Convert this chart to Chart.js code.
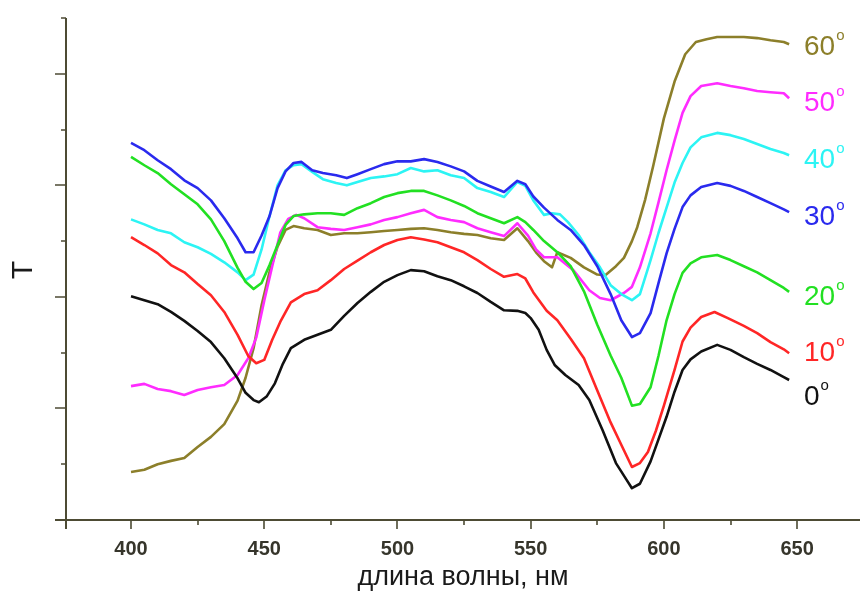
<!DOCTYPE html>
<html>
<head>
<meta charset="utf-8">
<script src="https://cdn.jsdelivr.net/npm/chart.js@4.4.1/dist/chart.umd.min.js"></script>
<style>
	body{ margin:0; background:#fff; }
	canvas{ display:block; }
</style>
</head>
<body>
<canvas id="spectra" width="860" height="592"></canvas>
<script>
// Spectra: wavelength (nm) and T (arbitrary units, one unit = one y tick)
var wl0  = [400,405,410,415,420,425,430,435,440,443,446,448,451,454,457,460,465,470,475,480,485,490,495,500,505,510,515,520,525,530,535,540,545,548,550,553,556,559,563,568,572,577,582,586,588,591,595,598,601,604,607,610,614,620,625,630,635,640,645,647];
var t0   = [4.01,3.94,3.87,3.73,3.57,3.39,3.19,2.90,2.54,2.28,2.15,2.11,2.22,2.45,2.80,3.08,3.23,3.32,3.41,3.66,3.89,4.09,4.27,4.39,4.48,4.46,4.37,4.30,4.19,4.07,3.91,3.76,3.75,3.71,3.62,3.41,3.05,2.78,2.60,2.42,2.15,1.61,1.02,0.72,0.57,0.65,1.05,1.45,1.85,2.30,2.69,2.88,3.02,3.14,3.05,2.92,2.80,2.69,2.56,2.51];

var wl10 = [400,405,410,415,420,425,430,435,440,444,447,450,453,456,460,465,470,475,480,485,490,495,500,505,510,515,520,525,530,535,540,545,548,551,556,560,565,570,575,580,584,588,591,594,597,600,604,607,610,614,619,624,630,635,640,645,647];
var t10  = [5.07,4.93,4.78,4.57,4.44,4.23,4.03,3.73,3.32,2.94,2.81,2.87,3.23,3.55,3.90,4.05,4.12,4.30,4.50,4.65,4.80,4.93,5.02,5.07,5.03,4.98,4.89,4.80,4.66,4.50,4.36,4.41,4.33,4.08,3.75,3.58,3.25,2.90,2.32,1.75,1.35,0.95,1.02,1.22,1.60,2.05,2.69,3.20,3.45,3.64,3.73,3.62,3.48,3.35,3.19,3.06,2.99];

var wl20 = [400,405,410,415,420,425,430,435,440,443,446,449,452,455,458,461,465,470,475,480,485,490,495,500,505,510,515,520,525,530,535,540,545,548,551,555,560,565,570,575,580,584,588,591,595,598,601,604,607,610,614,620,625,630,635,640,645,647];
var t20  = [6.51,6.36,6.22,6.02,5.84,5.66,5.39,5.00,4.52,4.27,4.14,4.25,4.57,4.93,5.29,5.45,5.48,5.50,5.50,5.47,5.59,5.68,5.79,5.86,5.90,5.90,5.82,5.73,5.63,5.50,5.41,5.32,5.43,5.34,5.20,5.00,4.80,4.55,4.10,3.50,2.95,2.55,2.05,2.08,2.38,2.95,3.58,4.05,4.43,4.60,4.71,4.75,4.66,4.55,4.44,4.30,4.16,4.09];

var wl30 = [400,405,410,415,420,425,430,435,440,443,446,449,452,455,458,461,464,468,472,477,481,485,490,495,500,505,510,515,520,525,530,535,540,545,548,551,555,560,565,570,575,580,584,588,591,595,598,601,604,607,610,614,620,625,630,635,640,645,647];
var t30  = [6.76,6.63,6.45,6.29,6.09,5.95,5.73,5.41,5.05,4.80,4.80,5.10,5.45,5.95,6.25,6.40,6.42,6.27,6.22,6.18,6.13,6.20,6.29,6.38,6.43,6.43,6.47,6.42,6.34,6.25,6.08,5.98,5.88,6.08,6.02,5.80,5.60,5.38,5.20,4.93,4.55,4.05,3.58,3.28,3.35,3.71,4.25,4.78,5.22,5.61,5.82,5.97,6.04,5.99,5.90,5.79,5.68,5.57,5.52];

var wl40 = [400,405,410,415,420,425,430,435,440,443,446,449,452,455,458,461,464,468,472,477,481,485,490,495,500,505,510,515,520,525,530,535,540,545,548,551,555,558,561,564,568,572,576,580,584,588,591,595,598,601,604,607,610,614,620,625,630,635,640,645,647];
var t40  = [5.39,5.30,5.20,5.14,4.98,4.89,4.77,4.62,4.44,4.30,4.40,4.85,5.45,6.00,6.27,6.36,6.38,6.24,6.11,6.04,6.00,6.06,6.13,6.16,6.20,6.31,6.25,6.27,6.18,6.13,5.95,5.88,5.79,6.06,5.99,5.73,5.47,5.50,5.48,5.34,5.11,4.80,4.53,4.21,4.05,3.94,4.05,4.66,5.15,5.60,6.05,6.40,6.68,6.86,6.94,6.90,6.83,6.74,6.65,6.58,6.54];

var wl50 = [400,405,410,415,420,425,430,435,440,444,447,450,453,456,459,462,465,470,475,480,485,490,495,500,505,510,515,520,525,530,535,540,545,549,552,555,560,566,572,576,580,585,588,591,595,598,601,604,607,610,614,620,625,630,635,640,645,647];
var t50  = [2.40,2.44,2.35,2.31,2.24,2.33,2.38,2.42,2.60,2.90,3.27,3.93,4.55,5.15,5.40,5.47,5.41,5.25,5.22,5.20,5.25,5.30,5.38,5.43,5.50,5.56,5.43,5.38,5.34,5.23,5.16,5.09,5.32,5.10,4.85,4.71,4.71,4.48,4.12,3.98,3.94,4.07,4.18,4.53,5.14,5.70,6.27,6.80,7.30,7.60,7.78,7.83,7.78,7.74,7.69,7.67,7.65,7.56];

var wl60 = [400,405,410,415,420,425,430,435,440,443,446,449,452,455,458,461,465,470,475,480,485,490,495,500,505,510,515,520,525,530,535,540,545,549,552,555,558,560,565,570,575,578,582,585,588,590,593,596,600,604,608,612,616,620,625,630,635,640,645,647];
var t60  = [0.86,0.90,1.00,1.06,1.11,1.31,1.49,1.72,2.14,2.55,3.08,3.85,4.45,4.90,5.20,5.27,5.23,5.20,5.11,5.14,5.14,5.16,5.18,5.20,5.22,5.23,5.20,5.16,5.13,5.11,5.05,5.02,5.23,5.00,4.80,4.64,4.53,4.80,4.70,4.53,4.40,4.39,4.55,4.70,5.00,5.25,5.75,6.35,7.20,7.86,8.35,8.57,8.62,8.66,8.66,8.66,8.64,8.60,8.57,8.53];

var seriesNames = ['0', '10', '20', '30', '40', '50', '60'];
var seriesWl    = [wl0, wl10, wl20, wl30, wl40, wl50, wl60];
var seriesT     = [t0, t10, t20, t30, t40, t50, t60];
var seriesColor = ['#111111', '#ff2626', '#22e022', '#2a2aee', '#2cf4f4', '#ff2cff', '#8c7f2a'];
var labelShift  = [17, 0, 5, 5, 5, 5, 3];   // px nudge of the end labels

var xMajor = [400, 450, 500, 550, 600, 650],
	xMinor = [425, 475, 525, 575, 625],
	yMajor = [2, 4, 6, 8],
	yMinor = [1, 3, 5, 7, 9];

var axisColor = '#4d4b34',
	sans = '"Liberation Sans", Arial, sans-serif';

function points(wl, t){
	var out = [];
	for(var i = 0; i < wl.length && i < t.length; i++) out.push({ x: wl[i], y: t[i] });
	return out;
}

var datasets = [];
for(var i = 0; i < seriesNames.length; i++){
	datasets.push({
		label: seriesNames[i] + '°',
		data: points(seriesWl[i], seriesT[i]),
		borderColor: seriesColor[i],
		borderWidth: 2.6,
		pointRadius: 0,
		fill: false,
		tension: 0,
		borderJoinStyle: 'round'
	});
}

// axes, ticks and texts drawn from the chart's own scales
var frame = {
	id: 'frame',
	afterDraw: function(chart){
		var ctx = chart.ctx,
			xs  = chart.scales.x,
			ys  = chart.scales.y,
			y0  = Math.round(ys.getPixelForValue(0)),
			x0  = Math.round(xs.getPixelForValue(xs.min));

		ctx.save();
		ctx.strokeStyle = axisColor;
		ctx.lineWidth = 2;
		ctx.beginPath();
		ctx.moveTo(x0 - 11, y0); ctx.lineTo(chart.width, y0);
		ctx.moveTo(x0, ys.getPixelForValue(ys.max)); ctx.lineTo(x0, y0 + 9);
		ctx.stroke();

		ctx.lineWidth = 1.6;
		ctx.beginPath();
		xMajor.forEach(function(v){ var p = Math.round(xs.getPixelForValue(v)); ctx.moveTo(p, y0); ctx.lineTo(p, y0 + 9); });
		xMinor.forEach(function(v){ var p = Math.round(xs.getPixelForValue(v)); ctx.moveTo(p, y0); ctx.lineTo(p, y0 + 5); });
		yMajor.forEach(function(v){ var p = Math.round(ys.getPixelForValue(v)); ctx.moveTo(x0, p); ctx.lineTo(x0 - 11, p); });
		yMinor.forEach(function(v){ var p = Math.round(ys.getPixelForValue(v)); ctx.moveTo(x0, p); ctx.lineTo(x0 - 5, p); });
		ctx.stroke();

		ctx.fillStyle = '#36352b';
		ctx.font = 'bold 20px ' + sans;
		ctx.textAlign = 'center';
		ctx.textBaseline = 'middle';
		xMajor.forEach(function(v){ ctx.fillText(String(v), xs.getPixelForValue(v), y0 + 29); });

		ctx.fillStyle = '#1a1a1a';
		ctx.font = '27px ' + sans;
		ctx.textBaseline = 'alphabetic';
		ctx.fillText('длина волны, нм', (chart.chartArea.left + chart.chartArea.right) / 2, 585);

		ctx.save();
		ctx.translate(24, 270);
		ctx.rotate(-Math.PI / 2);
		ctx.font = '30px ' + sans;
		ctx.textBaseline = 'middle';
		ctx.fillText('T', 0, 0);
		ctx.restore();

		// end labels like 60°
		ctx.textAlign = 'left';
		ctx.textBaseline = 'middle';
		for(var i = 0; i < seriesNames.length; i++){
			var t  = seriesT[i],
				ly = ys.getPixelForValue(t[t.length - 1]) + labelShift[i],
				lx = 804;
			ctx.fillStyle = seriesColor[i];
			ctx.font = '28px ' + sans;
			ctx.fillText(seriesNames[i], lx, ly);
			var w = ctx.measureText(seriesNames[i]).width;
			ctx.font = '15px ' + sans;
			ctx.fillText('o', lx + w + 1, ly - 11);
		}
		ctx.restore();
	}
};

new Chart(document.getElementById('spectra').getContext('2d'), {
	type: 'line',
	data: { datasets: datasets },
	options: {
		responsive: false,
		animation: false,
		devicePixelRatio: 1,
		layout: { padding: { left: 66, right: 0, top: 18, bottom: 72 } },
		scales: {
			x: { type: 'linear', min: 375.6, max: 673.6, display: false },
			y: { type: 'linear', min: 0, max: 9, display: false }
		},
		plugins: { legend: { display: false }, tooltip: { enabled: false } }
	},
	plugins: [frame]
});
</script>
</body>
</html>
